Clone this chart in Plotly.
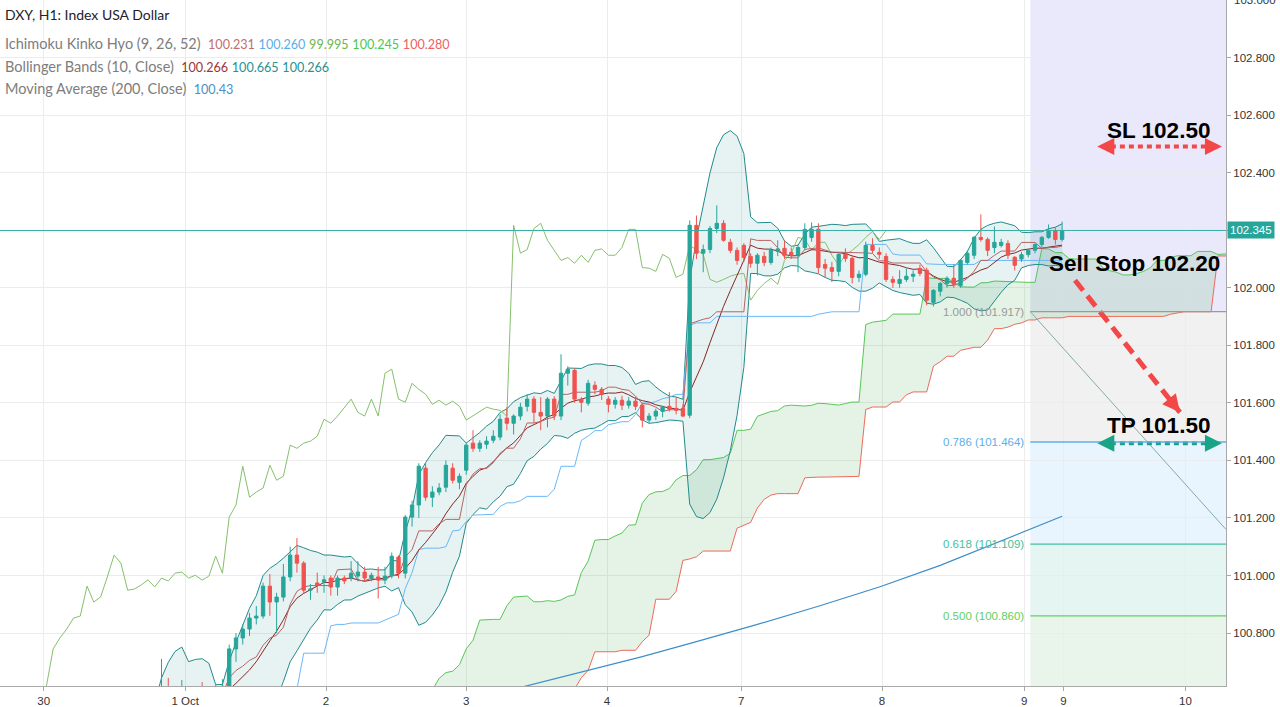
import math
import plotly.graph_objects as go

# ---------------- data (hourly bars, bar 0 ~ 30 Sep 00:00) ----------------
first_bar = 0
opens = [
    100.20, 100.22, 100.25, 100.21, 100.24, 100.20, 100.23, 100.19, 100.22, 100.18,
    100.21, 100.17, 100.15, 100.12, 100.38, 100.41, 100.37, 100.36, 100.54, 100.60,
    100.57, 100.59, 100.61, 100.57, 100.60, 100.57, 100.59, 100.60, 100.615, 100.745,
    100.783, 100.814, 100.852, 100.859, 100.963, 100.908, 100.925, 100.995, 101.071, 101.043,
    100.949, 100.974, 100.977, 100.991, 100.960, 100.991, 100.991, 100.998, 101.012, 100.991,
    100.995, 100.984, 100.998, 101.064, 101.008, 101.203, 101.245, 101.373, 101.272, 101.290,
    101.307, 101.373, 101.324, 101.366, 101.460, 101.442, 101.456, 101.470, 101.481, 101.547,
    101.529, 101.554, 101.588, 101.613, 101.567, 101.554, 101.613, 101.554, 101.703, 101.713,
    101.613, 101.599, 101.661, 101.647, 101.613, 101.595, 101.609, 101.592, 101.606, 101.592,
    101.540, 101.554, 101.571, 101.588, 101.581, 101.581, 101.557, 102.217, 102.120, 102.133,
    102.206, 102.224, 102.158, 102.130, 102.147, 102.109, 102.085, 102.109, 102.088, 102.127,
    102.137, 102.123, 102.113, 102.140, 102.175, 102.203, 102.081, 102.070, 102.057, 102.116,
    102.102, 102.036, 102.047, 102.147, 102.123, 102.109, 102.029, 102.015, 102.029, 102.040,
    102.067, 102.061, 101.949, 101.988, 102.015, 102.033, 102.008, 102.088, 102.113, 102.175,
    102.168, 102.140, 102.147, 102.154, 102.106, 102.100, 102.115, 102.130, 102.150, 102.175,
    102.199, 102.168]
highs = [
    100.25, 100.28, 100.27, 100.27, 100.26, 100.26, 100.25, 100.25, 100.24, 100.24,
    100.23, 100.20, 100.17, 100.40, 100.44, 100.46, 100.42, 100.56, 100.71, 100.644,
    100.61, 100.637, 100.615, 100.60, 100.63, 100.60, 100.62, 100.64, 100.76, 100.80,
    100.83, 100.87, 100.894, 100.975, 101.005, 100.94, 101.04, 101.10, 101.13, 101.05,
    100.97, 101.01, 101.00, 101.00, 101.00, 101.00, 101.05, 101.05, 101.03, 101.01,
    101.03, 101.03, 101.08, 101.07, 101.21, 101.26, 101.39, 101.39, 101.31, 101.321,
    101.40, 101.39, 101.355, 101.46, 101.505, 101.47, 101.484, 101.505, 101.56, 101.585,
    101.56, 101.60, 101.63, 101.623, 101.620, 101.62, 101.623, 101.769, 101.727, 101.72,
    101.62, 101.68, 101.675, 101.655, 101.623, 101.62, 101.625, 101.62, 101.62, 101.60,
    101.565, 101.58, 101.59, 101.637, 101.62, 101.595, 102.234, 102.251, 102.150, 102.215,
    102.286, 102.235, 102.170, 102.140, 102.155, 102.120, 102.120, 102.125, 102.140, 102.165,
    102.165, 102.140, 102.150, 102.224, 102.227, 102.224, 102.100, 102.090, 102.120, 102.137,
    102.110, 102.060, 102.160, 102.172, 102.140, 102.120, 102.040, 102.061, 102.067, 102.060,
    102.080, 102.070, 101.995, 102.020, 102.040, 102.081, 102.100, 102.130, 102.180, 102.255,
    102.175, 102.213, 102.170, 102.165, 102.110, 102.125, 102.135, 102.155, 102.180, 102.220,
    102.210, 102.230]
lows = [
    100.18, 100.20, 100.19, 100.19, 100.18, 100.18, 100.17, 100.17, 100.16, 100.16,
    100.15, 100.13, 100.10, 100.08, 100.35, 100.36, 100.34, 100.33, 100.52, 100.55,
    100.53, 100.56, 100.55, 100.54, 100.55, 100.54, 100.56, 100.58, 100.60, 100.70,
    100.76, 100.79, 100.83, 100.85, 100.86, 100.80, 100.91, 100.98, 101.01, 100.94,
    100.915, 100.94, 100.94, 100.93, 100.93, 100.97, 100.98, 100.98, 100.98, 100.98,
    100.92, 100.97, 100.99, 100.99, 100.99, 101.17, 101.20, 101.26, 101.238, 101.279,
    101.29, 101.32, 101.30, 101.35, 101.43, 101.43, 101.44, 101.46, 101.47, 101.505,
    101.49, 101.54, 101.57, 101.53, 101.505, 101.515, 101.54, 101.54, 101.66, 101.60,
    101.567, 101.59, 101.63, 101.61, 101.567, 101.58, 101.575, 101.58, 101.575, 101.515,
    101.53, 101.54, 101.55, 101.57, 101.56, 101.55, 101.547, 102.100, 102.054, 102.120,
    102.190, 102.160, 102.120, 102.080, 102.090, 102.070, 102.043, 102.075, 102.080, 102.110,
    102.100, 102.100, 102.054, 102.130, 102.160, 102.050, 102.035, 102.020, 102.040, 102.090,
    102.015, 102.020, 102.040, 102.120, 102.100, 102.020, 102.000, 102.000, 102.020, 102.020,
    102.040, 101.939, 101.935, 101.970, 102.000, 102.000, 102.000, 102.080, 102.100, 102.160,
    102.110, 102.120, 102.140, 102.100, 102.060, 102.090, 102.105, 102.120, 102.140, 102.170,
    102.150, 102.160]
closes = [
    100.22, 100.25, 100.21, 100.24, 100.20, 100.23, 100.19, 100.22, 100.18, 100.21,
    100.17, 100.15, 100.12, 100.38, 100.41, 100.37, 100.36, 100.54, 100.60, 100.57,
    100.59, 100.61, 100.57, 100.58, 100.57, 100.59, 100.60, 100.615, 100.745, 100.783,
    100.814, 100.852, 100.859, 100.963, 100.908, 100.925, 100.995, 101.071, 101.043, 100.949,
    100.953, 100.967, 100.985, 100.960, 100.991, 100.981, 101.008, 101.012, 100.991, 101.001,
    100.984, 100.998, 101.067, 101.008, 101.203, 101.245, 101.380, 101.272, 101.290, 101.304,
    101.383, 101.331, 101.345, 101.453, 101.442, 101.460, 101.467, 101.484, 101.543, 101.529,
    101.554, 101.585, 101.613, 101.567, 101.554, 101.613, 101.554, 101.703, 101.717, 101.613,
    101.602, 101.668, 101.647, 101.630, 101.595, 101.609, 101.592, 101.606, 101.588, 101.540,
    101.554, 101.571, 101.585, 101.578, 101.574, 101.554, 102.217, 102.120, 102.133, 102.206,
    102.224, 102.165, 102.130, 102.095, 102.105, 102.085, 102.113, 102.088, 102.130, 102.135,
    102.113, 102.113, 102.140, 102.203, 102.203, 102.070, 102.068, 102.057, 102.116, 102.102,
    102.036, 102.047, 102.147, 102.130, 102.116, 102.029, 102.019, 102.029, 102.040, 102.047,
    102.050, 101.957, 101.991, 102.015, 102.033, 102.012, 102.095, 102.120, 102.175, 102.168,
    102.130, 102.158, 102.158, 102.113, 102.078, 102.115, 102.130, 102.150, 102.175, 102.196,
    102.168, 102.199]

tick_bars = [0.6, 21.5, 42.3, 63.0, 83.8, 103.6, 124.4, 145.4, 151.2, 169.2]
tick_text = ["30", "1 Oct", "2", "3", "4", "7", "8", "9", "9", "10"]

ma200_bars = [70, 80, 89, 97, 106, 115, 124, 133, 142, 151]
ma200_vals = [100.605, 100.665, 100.718, 100.770, 100.830, 100.893, 100.960, 101.035, 101.120, 101.206]

fib_start_bar = 146.3
fib_levels = ["1.000", "0.786", "0.618", "0.500", "0.382"]
fib_prices = [101.917, 101.464, 101.109, 100.860, 100.611]
fib_line_colors = ["#9a9a9a", "#5eaee8", "#45bfa0", "#5fcf5f", "#5fcf5f"]
fib_zone_colors = ["rgba(120,120,120,0.10)", "rgba(33,150,243,0.10)",
                   "rgba(0,170,130,0.10)", "rgba(76,175,80,0.12)"]
fib_trend_bars = [146.3, 175.2]
fib_trend_prices = [101.917, 101.16]

sl_price = 102.491
tp_price = 101.460
arrow_bars = [156.2, 174.6]
signal_bars = [152.9, 168.4]
signal_prices = [102.026, 101.567]
last_price_label = "102.345"

x_range = [-5.85, 175.2]
y_range = [100.616, 103.0]

assert len(opens) == len(highs) == len(lows) == len(closes)

# ---------------- indicators (from the candles) ----------------
n = len(closes)
bars = list(range(first_bar, first_bar + n))


def channel_mid(i, period):
    lo = i - period + 1
    if lo < 0:
        return None
    return (max(highs[lo:i + 1]) + min(lows[lo:i + 1])) / 2.0


tenkan = [channel_mid(i, 9) for i in range(n)]
kijun = [channel_mid(i, 26) for i in range(n)]
lead_a = [None if (tenkan[i] is None or kijun[i] is None) else (tenkan[i] + kijun[i]) / 2 for i in range(n)]
lead_b = [channel_mid(i, 52) for i in range(n)]
SHIFT = 26

bb_mid, bb_up, bb_lo = [], [], []
for i in range(n):
    if i < 9:
        bb_mid.append(None); bb_up.append(None); bb_lo.append(None)
        continue
    w = closes[i - 9:i + 1]
    m = sum(w) / 10.0
    sd = math.sqrt(sum((c - m) ** 2 for c in w) / 10.0)
    bb_mid.append(m); bb_up.append(m + 2 * sd); bb_lo.append(m - 2 * sd)

ia0 = next(i for i in range(n) if lead_a[i] is not None)
ib0 = next(i for i in range(n) if lead_b[i] is not None)

CLOUD = "rgba(76,175,80,0.15)"
fig = go.Figure()

# Ichimoku cloud
fig.add_trace(go.Scatter(x=[bars[i] + SHIFT for i in range(ia0, ib0 + 1)],
                         y=[lead_a[i] for i in range(ia0, ib0 + 1)],
                         mode="lines", line=dict(color="#58c758", width=1),
                         fill="tozeroy", fillcolor=CLOUD, hoverinfo="skip"))
fig.add_trace(go.Scatter(x=[bars[i] + SHIFT for i in range(ib0, n)],
                         y=[lead_b[i] for i in range(ib0, n)],
                         mode="lines", line=dict(color="#ee6a5c", width=1), hoverinfo="skip"))
fig.add_trace(go.Scatter(x=[bars[i] + SHIFT for i in range(ib0, n)],
                         y=[lead_a[i] for i in range(ib0, n)],
                         mode="lines", line=dict(color="#58c758", width=1),
                         fill="tonexty", fillcolor=CLOUD, hoverinfo="skip"))

# Bollinger bands
fig.add_trace(go.Scatter(x=bars[9:], y=bb_lo[9:], mode="lines",
                         line=dict(color="#228b8b", width=1), hoverinfo="skip"))
fig.add_trace(go.Scatter(x=bars[9:], y=bb_up[9:], mode="lines",
                         line=dict(color="#228b8b", width=1), fill="tonexty",
                         fillcolor="rgba(19,132,132,0.10)", hoverinfo="skip"))

# MA 200
fig.add_trace(go.Scatter(x=ma200_bars, y=ma200_vals, mode="lines",
                         line=dict(color="#3d8ec9", width=1.2), hoverinfo="skip"))
# Kijun, lagging, BB basis, Tenkan
fig.add_trace(go.Scatter(x=bars[25:], y=kijun[25:], mode="lines",
                         line=dict(color="#6ab8f7", width=1), hoverinfo="skip"))
fig.add_trace(go.Scatter(x=[b - SHIFT for b in bars], y=closes, mode="lines",
                         line=dict(color="#86c06c", width=1), hoverinfo="skip"))
fig.add_trace(go.Scatter(x=bars[9:], y=bb_mid[9:], mode="lines",
                         line=dict(color="#862828", width=1), hoverinfo="skip"))
fig.add_trace(go.Scatter(x=bars[8:], y=tenkan[8:], mode="lines",
                         line=dict(color="#b86464", width=1), hoverinfo="skip"))

# fib trend line
fig.add_trace(go.Scatter(x=fib_trend_bars, y=fib_trend_prices, mode="lines",
                         line=dict(color="#86a9aa", width=1), hoverinfo="skip"))

# arrows (dotted / dashed bodies)
fig.add_trace(go.Scatter(x=[arrow_bars[0] + 2.0, arrow_bars[1] - 2.0], y=[sl_price, sl_price],
                         mode="lines", line=dict(color="#f24848", width=4, dash="5px,4px"), hoverinfo="skip"))
fig.add_trace(go.Scatter(x=[arrow_bars[0] + 2.0, arrow_bars[1] - 2.0], y=[tp_price, tp_price],
                         mode="lines", line=dict(color="#19a585", width=4, dash="5px,4px"), hoverinfo="skip"))
fig.add_trace(go.Scatter(x=signal_bars, y=signal_prices,
                         mode="lines", line=dict(color="#f24848", width=5, dash="13px,7px"), hoverinfo="skip"))

# candles on overlay axis (drawn on top)
fig.add_trace(go.Candlestick(x=bars, open=opens, high=highs, low=lows, close=closes,
                             xaxis="x2", yaxis="y2",
                             increasing=dict(line=dict(color="#26a69a", width=1), fillcolor="#26a69a"),
                             decreasing=dict(line=dict(color="#ef5350", width=1), fillcolor="#ef5350"),
                             whiskerwidth=0, hoverinfo="skip"))

shapes = []
# lavender zone
shapes.append(dict(type="rect", xref="x", yref="y", x0=fib_start_bar, x1=x_range[1],
                   y0=fib_prices[0], y1=y_range[1], fillcolor="rgba(103,92,230,0.14)",
                   line=dict(width=0), layer="below"))
for k in range(len(fib_zone_colors)):
    shapes.append(dict(type="rect", xref="x", yref="y", x0=fib_start_bar, x1=x_range[1],
                       y0=fib_prices[k + 1], y1=fib_prices[k], fillcolor=fib_zone_colors[k],
                       line=dict(width=0), layer="below"))
for k in range(len(fib_prices)):
    shapes.append(dict(type="line", xref="x", yref="y", x0=fib_start_bar, x1=x_range[1],
                       y0=fib_prices[k], y1=fib_prices[k],
                       line=dict(color=fib_line_colors[k], width=1.3), layer="above"))
# last price line
shapes.append(dict(type="line", xref="x", yref="y", x0=x_range[0], x1=x_range[1],
                   y0=closes[-1], y1=closes[-1], line=dict(color="#3aafa3", width=1), layer="above"))

ann = []
def paper_y(px):
    return 1 - px / 686.0

LEG = "Lato"
NAME_SIZE = 14.5
VAL = "font-size:12.6px;"
ann.append(dict(xref="paper", yref="paper", x=0, y=paper_y(14), xshift=3, xanchor="left", yanchor="middle",
                showarrow=False, text="DXY, H1: Index USA Dollar",
                font=dict(family=LEG, size=14, color="#1e222d")))
ann.append(dict(xref="paper", yref="paper", x=0, y=paper_y(43), xshift=3, xanchor="left", yanchor="middle",
                showarrow=False,
                text=("Ichimoku Kinko Hyo (9, 26, 52)&nbsp; "
                      f"<span style='{VAL}color:#c46d6d'>100.231</span> "
                      f"<span style='{VAL}color:#5aaee8'>100.260</span> "
                      f"<span style='{VAL}color:#6cb64c'>99.995</span> "
                      f"<span style='{VAL}color:#4cc84c'>100.245</span> "
                      f"<span style='{VAL}color:#ee5f5f'>100.280</span>"),
                font=dict(family=LEG, size=NAME_SIZE, color="#7d7d7d")))
ann.append(dict(xref="paper", yref="paper", x=0, y=paper_y(66), xshift=3, xanchor="left", yanchor="middle",
                showarrow=False,
                text=("Bollinger Bands (10, Close)&nbsp; "
                      f"<span style='{VAL}color:#9b3535'>100.266</span> "
                      f"<span style='{VAL}color:#2a9090'>100.665</span> "
                      f"<span style='{VAL}color:#2a9090'>100.266</span>"),
                font=dict(family=LEG, size=NAME_SIZE, color="#7d7d7d")))
ann.append(dict(xref="paper", yref="paper", x=0, y=paper_y(89), xshift=3, xanchor="left", yanchor="middle",
                showarrow=False,
                text=f"Moving Average (200, Close)&nbsp; <span style='{VAL}color:#4a8fc8'>100.43</span>",
                font=dict(family=LEG, size=NAME_SIZE, color="#7d7d7d")))

# fib labels
for k in range(4):
    ann.append(dict(xref="x", yref="y", x=fib_start_bar, y=fib_prices[k], xshift=-4,
                    xanchor="right", yanchor="middle", showarrow=False,
                    text=f"{fib_levels[k]} ({fib_prices[k]:.3f})",
                    font=dict(family="Liberation Sans", size=11.5, color=fib_line_colors[k])))

BOLD = dict(family="Liberation Sans", size=22.5, color="#000000")
ann.append(dict(xref="x", yref="y", x=165.2, y=102.547, showarrow=False, text="<b>SL 102.50</b>", font=BOLD))
ann.append(dict(xref="x", yref="y", x=161.7, y=102.085, showarrow=False, text="<b>Sell Stop 102.20</b>", font=BOLD))
ann.append(dict(xref="x", yref="y", x=165.2, y=101.522, showarrow=False, text="<b>TP 101.50</b>", font=BOLD))

# arrowheads
for yv, col in [(sl_price, "#f24848"), (tp_price, "#19a585")]:
    ann.append(dict(xref="x", yref="y", x=arrow_bars[0], y=yv, ax=15, ay=0, text=" ",
                    showarrow=True, arrowhead=2, arrowwidth=4, arrowsize=0.85, arrowcolor=col))
    ann.append(dict(xref="x", yref="y", x=arrow_bars[1], y=yv, ax=-15, ay=0, text=" ",
                    showarrow=True, arrowhead=2, arrowwidth=4, arrowsize=0.85, arrowcolor=col))
ann.append(dict(xref="x", yref="y", x=signal_bars[1], y=signal_prices[1], ax=-12, ay=-15, text=" ",
                showarrow=True, arrowhead=2, arrowwidth=5, arrowsize=0.7, arrowcolor="#f24848"))

# last price label on axis
ann.append(dict(xref="paper", yref="y", x=1, y=closes[-1], xanchor="left", yanchor="middle",
                xshift=1, showarrow=False, text=last_price_label, bgcolor="#26a69a",
                borderpad=2, font=dict(family="Liberation Sans", size=11.5, color="#ffffff")))
# top axis label (cut by the top edge, as in the source)
ann.append(dict(xref="paper", yref="paper", x=1, y=1, xanchor="left", yanchor="middle",
                xshift=6, showarrow=False, text="103.000",
                font=dict(family="Liberation Sans", size=11.5, color="#333333")))

y_ticks = [round(100.8 + 0.2 * k, 1) for k in range(11)]
y_ticktext = ["" if abs(v - 102.2) < 1e-9 else f"{v:.3f}" for v in y_ticks]

fig.update_layout(
    width=1280, height=707,
    margin=dict(l=0, r=54, t=0, b=21),
    paper_bgcolor="#ffffff", plot_bgcolor="#ffffff",
    showlegend=False,
    font=dict(family="Lato", color="#333333"),
    shapes=shapes, annotations=ann,
    xaxis=dict(range=x_range, tickvals=tick_bars, ticktext=tick_text, showgrid=True,
               gridcolor="#ececec", gridwidth=1, zeroline=False, showline=True,
               linecolor="#a9a9a9", ticks="outside", ticklen=4, tickcolor="#a9a9a9",
               tickfont=dict(family="Liberation Sans", size=11.5, color="#333333"),
               rangeslider=dict(visible=False), automargin=False, fixedrange=True),
    yaxis=dict(range=y_range, side="right", tickvals=y_ticks,
               ticktext=y_ticktext, showgrid=True, gridcolor="#ececec",
               zeroline=False, showline=True, linecolor="#a9a9a9", ticks="outside", ticklen=4,
               tickcolor="#a9a9a9", tickfont=dict(family="Liberation Sans", size=11.5, color="#333333"),
               automargin=False, fixedrange=True),
    xaxis2=dict(range=x_range, overlaying="x", visible=False, rangeslider=dict(visible=False),
                fixedrange=True),
    yaxis2=dict(range=y_range, overlaying="y", visible=False, fixedrange=True),
)

fig.write_html("out.html")
